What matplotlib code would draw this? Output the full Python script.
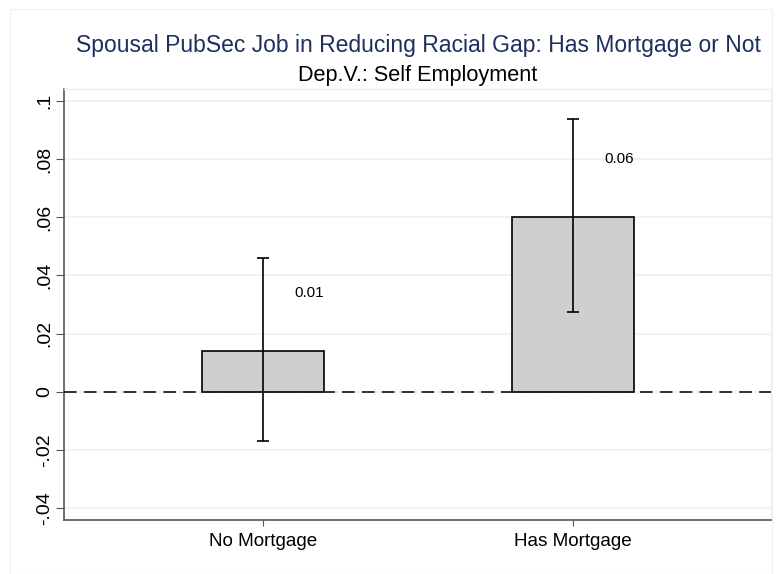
import numpy as np
import matplotlib
matplotlib.use('Agg')
import matplotlib.pyplot as plt
from matplotlib.patches import Rectangle

plt.rcParams['font.family'] = ['Liberation Sans', 'DejaVu Sans']

# coefficients and 95% CI by mortgage status
groups = ['No Mortgage', 'Has Mortgage']
coef = [0.0141, 0.0602]
ci_low = [-0.0171, 0.0274]
ci_high = [0.0459, 0.0938]
coef_labels = ['0.01', '0.06']
yticks = [-0.04, -0.02, 0, 0.02, 0.04, 0.06, 0.08, 0.1]
ytick_labels = ['-.04', '-.02', '0', '.02', '.04', '.06', '.08', '.1']

fig = plt.figure(figsize=(7.81, 5.74), dpi=100)
ax = fig.add_axes([64/781, 1 - 520/574, (771 - 64)/781, (520 - 89)/574])

# faint graph region border
fig.patches.append(Rectangle((10/781, 0), (772 - 10)/781, 1 - 9/574,
                             transform=fig.transFigure, fill=False,
                             edgecolor='#eef1f3', linewidth=0.8))

x = np.arange(len(groups))
ax.bar(x, coef, width=0.394, color='#cfcfcf', edgecolor='black', linewidth=1.2, zorder=3)
err = [np.array(coef) - np.array(ci_low), np.array(ci_high) - np.array(coef)]
ax.errorbar(x, coef, yerr=err, fmt='none', ecolor='black', elinewidth=1.2,
            capsize=4, capthick=1.2, zorder=4)
ax.axhline(0, color='#222222', linestyle=(0, (7, 4)), linewidth=1.3, zorder=5)

for xi, c, lab in zip(x, coef, coef_labels):
    ax.text(xi + 0.1, c + 0.02, lab, fontsize=11, ha='left', va='center', zorder=6)

ax.set_xlim(-0.642, 1.639)
ax.set_ylim(-0.0441, 0.1041)
ax.set_xticks(x)
ax.set_xticklabels(groups, fontsize=13.6)
ax.set_yticks(yticks)
ax.set_yticklabels(ytick_labels, fontsize=14, rotation=90, va='center')
ax.yaxis.grid(True, color='#eaf2f3', linewidth=1.2, zorder=0)
ax.set_axisbelow(True)

for s in ['left', 'bottom']:
    ax.spines[s].set_color('#555555')
    ax.spines[s].set_linewidth(1.2)
for s in ['top', 'right']:
    ax.spines[s].set_color('#eaf2f3')
    ax.spines[s].set_linewidth(1.0)
ax.tick_params(axis='y', direction='out', length=5.5, width=0.8, color='#555555', pad=2.5)
ax.tick_params(axis='x', direction='out', length=4, width=0.8, color='#555555', pad=5)

fig.text(0.536, 1 - 52/574, 'Spousal PubSec Job in Reducing Racial Gap: Has Mortgage or Not',
         ha='center', va='baseline', fontsize=16.5, color='#1c2f5e')
fig.text(0.535, 1 - 81/574, 'Dep.V.: Self Employment', ha='center', va='baseline',
         fontsize=15.6, color='black')

fig.savefig('out.png', dpi=100)
